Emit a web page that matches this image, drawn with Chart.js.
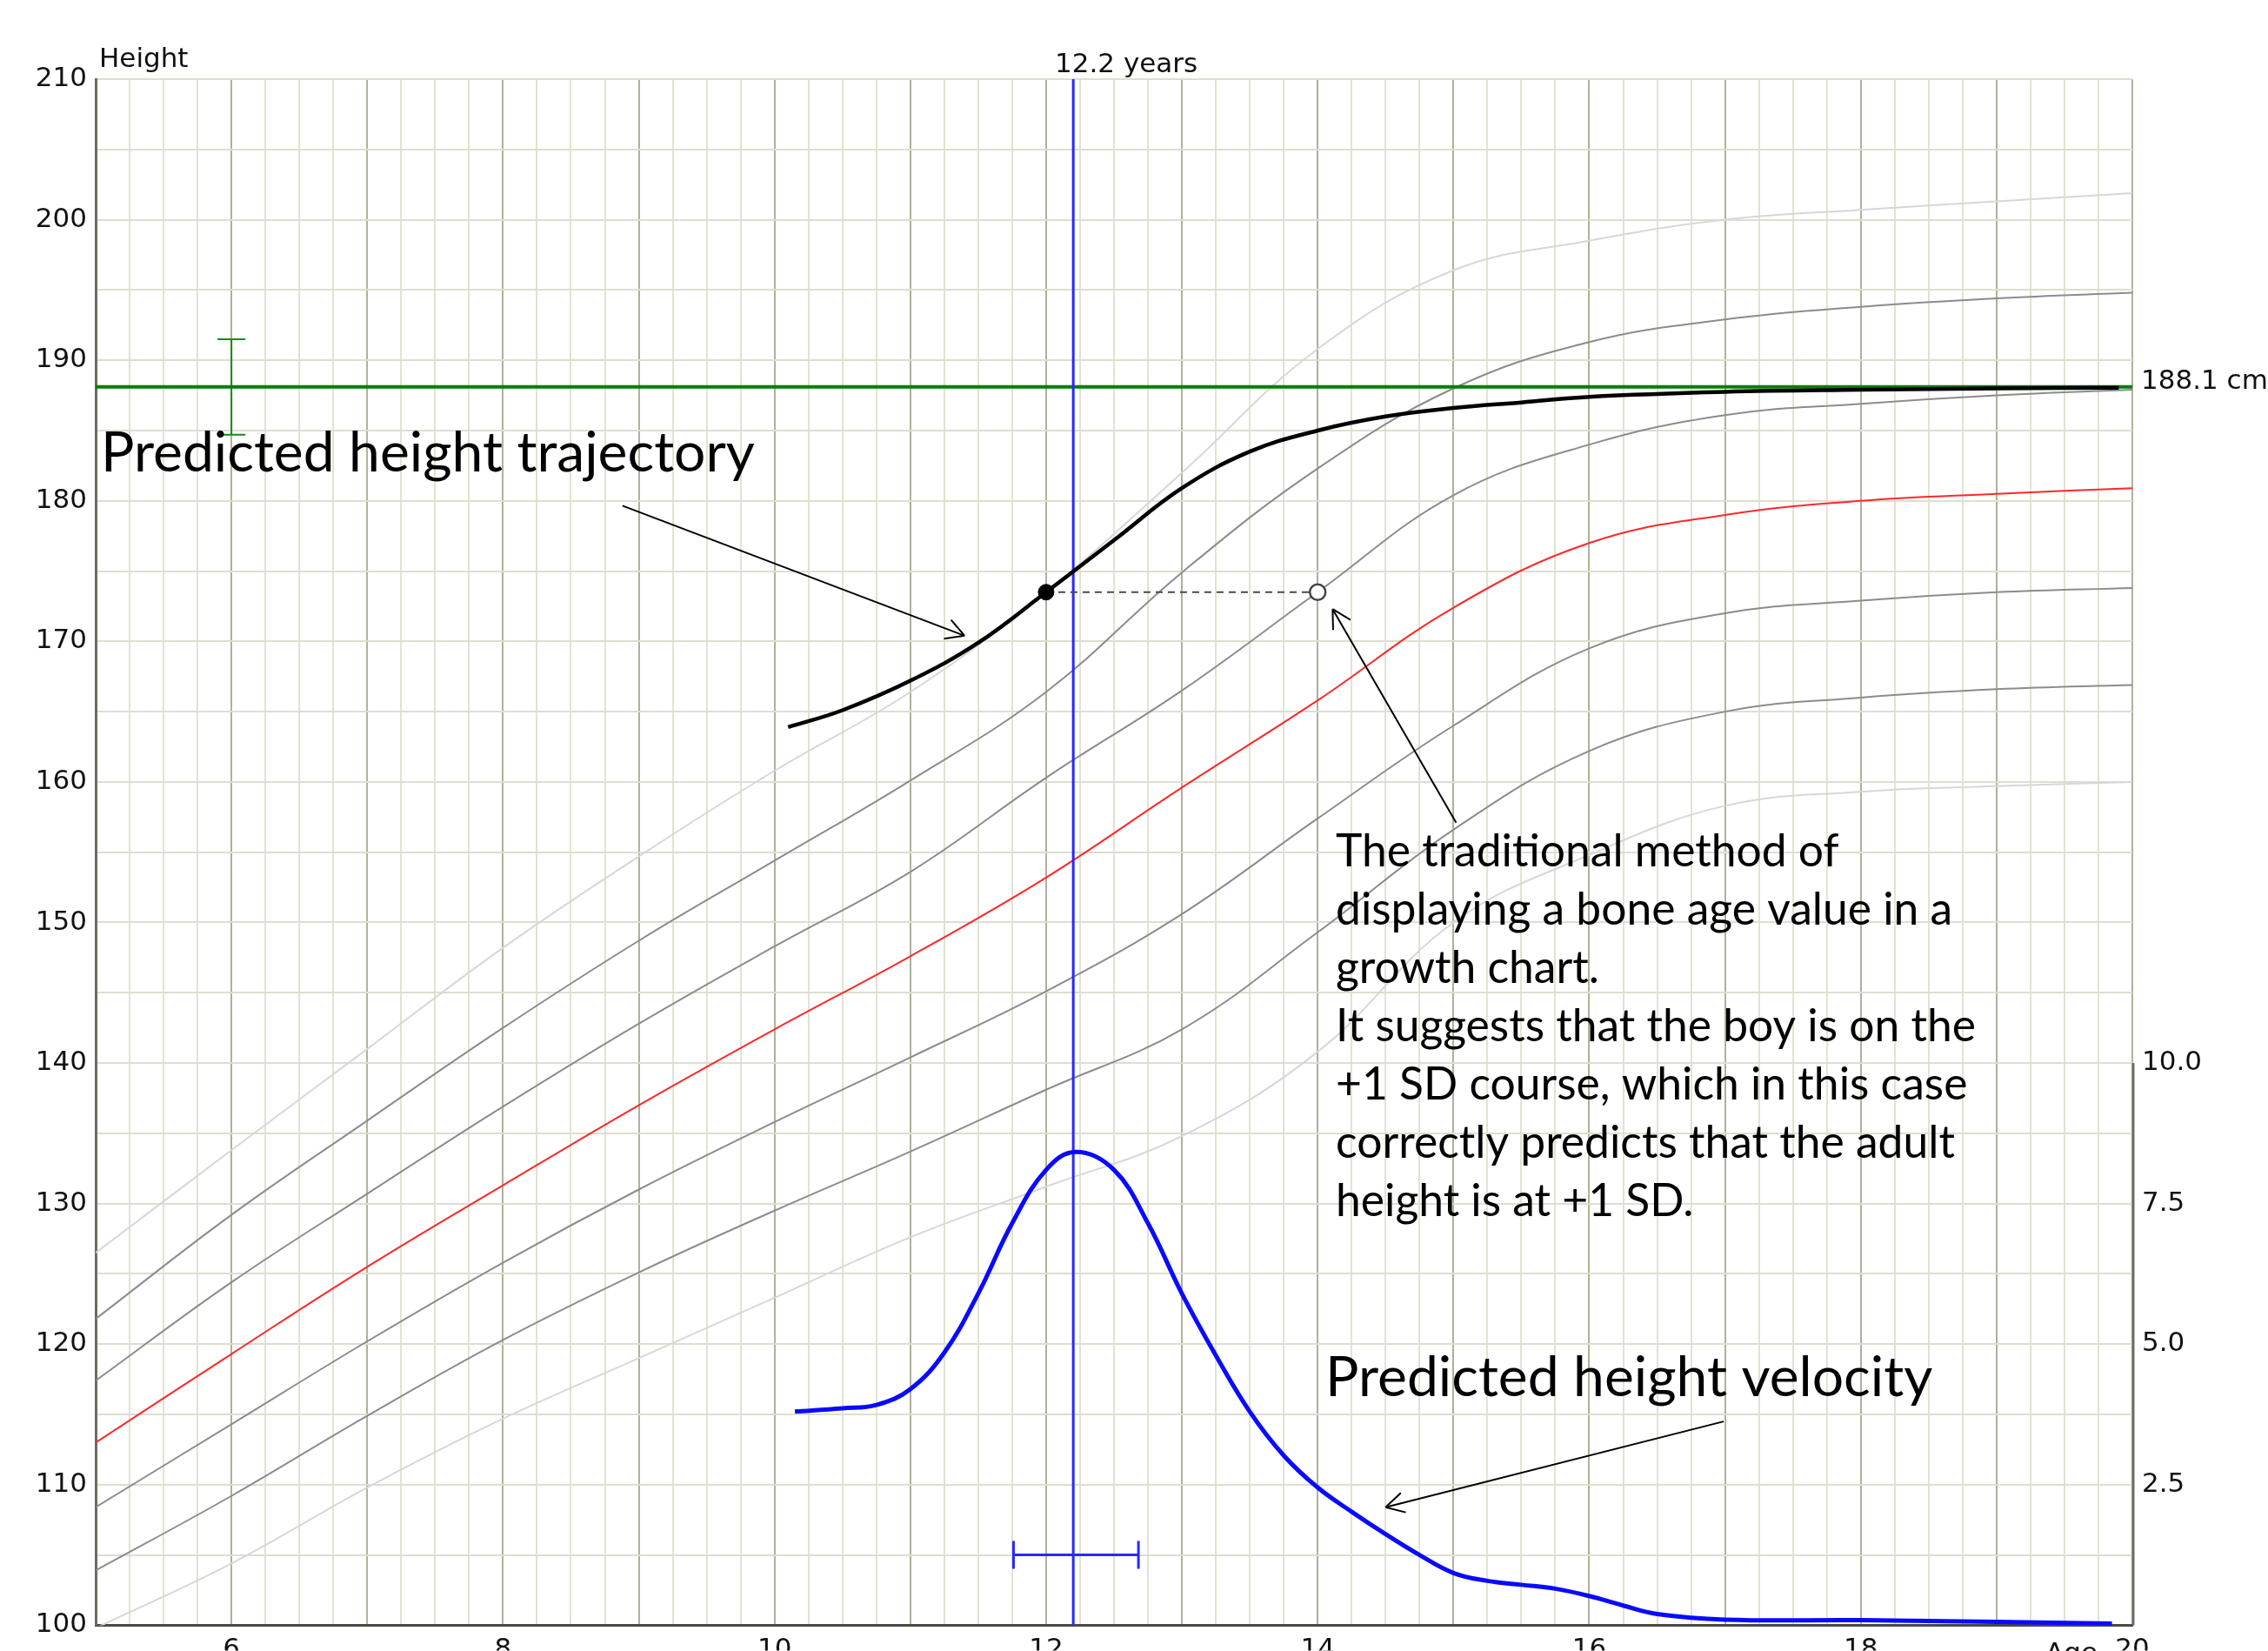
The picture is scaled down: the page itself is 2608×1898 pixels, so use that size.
<!DOCTYPE html>
<html>
<head>
<meta charset="utf-8">
<script src="https://cdn.jsdelivr.net/npm/chart.js@4.4.1/dist/chart.umd.min.js"></script>
<style>
  html, body { margin: 0; padding: 0; background: #fff; overflow: hidden; }
  #wrap { width: 2608px; height: 1898px; }
</style>
</head>
<body>
<div id="wrap"><canvas id="growthChart" width="2608" height="1898"></canvas></div>
<script>
// reference curves (boys), height in cm by age in years
const ages = [5, 6, 7, 8, 9, 10, 11, 12, 13, 14, 15, 16, 17, 18, 19, 20];
const plus3  = [126.5, 133.8, 141.0, 148.2, 154.7, 160.8, 166.4, 173.5, 182.0, 190.8, 196.4, 198.5, 200.0, 200.7, 201.3, 201.9];
const plus2  = [121.8, 129.2, 135.9, 142.5, 148.7, 154.4, 160.1, 166.4, 174.9, 182.3, 188.0, 191.3, 192.9, 193.8, 194.4, 194.8];
const plus1  = [117.4, 124.4, 130.7, 136.9, 142.8, 148.3, 153.6, 160.3, 166.5, 173.5, 180.4, 184.0, 186.1, 186.9, 187.5, 187.9];
const mean   = [113.0, 119.3, 125.5, 131.3, 137.0, 142.4, 147.6, 153.2, 159.6, 165.8, 172.4, 177.0, 179.0, 180.0, 180.5, 180.9];
const minus1 = [108.4, 114.3, 120.2, 125.8, 131.0, 135.8, 140.4, 145.1, 150.6, 157.4, 164.0, 169.5, 172.0, 172.9, 173.5, 173.8];
const minus2 = [103.9, 109.2, 114.9, 120.3, 125.1, 129.5, 133.7, 138.1, 142.4, 149.3, 156.6, 162.2, 165.0, 166.0, 166.6, 166.9];
const minus3 = [99.8, 104.4, 109.8, 114.7, 119.0, 123.3, 127.6, 131.2, 134.8, 140.8, 150.0, 154.8, 158.3, 159.3, 159.7, 160.0];

// predicted height trajectory
const trajAges    = [10.1, 10.5, 11, 11.5, 12, 12.5, 13, 13.5, 14, 14.5, 15, 15.5, 16, 17, 18, 19, 19.9];
const trajHeights = [163.9, 165.1, 167.2, 169.9, 173.5, 177.2, 180.9, 183.5, 185.0, 186.0, 186.6, 187.0, 187.4, 187.75, 187.9, 188.0, 188.05];

// predicted height velocity (cm/year, right axis)
const velAges   = [10.15, 10.5, 10.75, 11, 11.25, 11.5, 11.75, 12, 12.22, 12.5, 12.75, 13, 13.25, 13.5, 13.75, 14, 14.25, 14.5, 14.75, 15, 15.25, 15.5, 15.75, 16, 16.25, 16.5, 17, 18, 19, 19.85];
const velValues = [3.8, 3.86, 3.92, 4.2, 4.85, 5.9, 7.15, 8.1, 8.42, 8.1, 7.15, 5.9, 4.8, 3.8, 3.02, 2.45, 2.02, 1.62, 1.25, 0.93, 0.79, 0.72, 0.65, 0.52, 0.35, 0.2, 0.1, 0.09, 0.06, 0.03];

const currentAge = 12.2;
const ageBar = [11.76, 12.68];
const ageBarHeight = 105;
const targetHeight = 188.1;
const targetBar = [184.7, 191.5];
const targetBarAge = 6;
const measuredAge = 12;
const measuredHeight = 173.5;
const boneAge = 14;

const xTickLabels = [6, 8, 10, 12, 14, 16, 18, 20];
const velTickLabels = [2.5, 5, 7.5, 10];

function pts(xs, ys) { return xs.map((x, i) => ({ x: x, y: ys[i] })); }

function curve(data, color, order) {
    return { data: pts(ages, data), borderColor: color, borderWidth: 2, pointRadius: 0,
             tension: 0.4, order: order };
}

const notes = {
    id: 'notes',
    afterDraw(chart) {
        const { ctx, chartArea: a, scales: { x, y, y2 } } = chart;
        ctx.save();

        // velocity axis only spans 0 - 10
        ctx.strokeStyle = '#6e6e66';
        ctx.lineWidth = 3;
        ctx.beginPath();
        ctx.moveTo(a.right + 1, y2.getPixelForValue(10));
        ctx.lineTo(a.right + 1, y2.getPixelForValue(0));
        ctx.stroke();

        ctx.fillStyle = '#111';
        ctx.font = '31px "DejaVu Sans"';
        ctx.textBaseline = 'alphabetic';
        ctx.textAlign = 'left';
        ctx.fillText('Height', a.left + 4, a.top - 14);
        ctx.textAlign = 'center';
        ctx.fillText(currentAge + ' years', x.getPixelForValue(currentAge) + 61, a.top - 8);
        ctx.textAlign = 'left';
        ctx.fillText(targetHeight + ' cm', a.right + 10, y.getPixelForValue(targetHeight) + 2);
        ctx.textAlign = 'right';
        ctx.textBaseline = 'top';
        ctx.fillText('Age', a.right - 40, a.bottom + 18);

        // annotation texts
        const fam = 'Lato';
        function fit(text, w) {
            ctx.font = '100px ' + fam;
            return 100 * w / ctx.measureText(text).width;
        }
        ctx.fillStyle = '#000';
        ctx.textAlign = 'left';
        ctx.textBaseline = 'alphabetic';
        let s = fit('Predicted height trajectory', 752);
        ctx.font = s + 'px ' + fam;
        ctx.fillText('Predicted height trajectory', 116, 542);
        ctx.fillText('Predicted height velocity', 1524, 1605);

        const lines = ['The traditional method of', 'displaying a bone age value in a', 'growth chart.',
                       'It suggests that the boy is on the', '+1 SD course, which in this case',
                       'correctly predicts that the adult', 'height is at +1 SD.'];
        s = fit(lines[3], 736);
        ctx.font = s + 'px ' + fam;
        lines.forEach((t, i) => ctx.fillText(t, 1536, 996 + i * 67));

        // arrows, given in chart values
        function arrow(x0, y0, x1, y1) {
            const px0 = x.getPixelForValue(x0), py0 = y.getPixelForValue(y0);
            const px1 = x.getPixelForValue(x1), py1 = y.getPixelForValue(y1);
            const ang = Math.atan2(py1 - py0, px1 - px0);
            ctx.strokeStyle = '#000';
            ctx.lineWidth = 2;
            ctx.beginPath();
            ctx.moveTo(px0, py0);
            ctx.lineTo(px1, py1);
            for (const d of [-0.5, 0.5]) {
                ctx.moveTo(px1, py1);
                ctx.lineTo(px1 - 24 * Math.cos(ang + d), py1 - 24 * Math.sin(ang + d));
            }
            ctx.stroke();
        }
        arrow(8.88, 179.65, 11.40, 170.4);
        arrow(15.02, 157.1, 14.11, 172.3);
        arrow(16.99, 114.5, 14.50, 108.4);
        ctx.restore();
    }
};

const ctx = document.getElementById('growthChart').getContext('2d');
new Chart(ctx, {
    type: 'line',
    data: {
        datasets: [
            { data: pts([measuredAge], [measuredHeight]), showLine: false, pointRadius: 9,
              pointBackgroundColor: '#000', pointBorderColor: '#000', order: 0 },
            { data: pts([boneAge], [measuredHeight]), showLine: false, pointRadius: 9, pointBorderWidth: 2.5,
              pointBackgroundColor: '#fff', pointBorderColor: '#444', order: 0 },
            { data: pts([measuredAge, boneAge], [measuredHeight, measuredHeight]), borderColor: '#4a4a4a',
              borderWidth: 2, borderDash: [8, 6], pointRadius: 0, order: 1 },
            { data: pts(trajAges, trajHeights), borderColor: '#000', borderWidth: 4.5, pointRadius: 0,
              tension: 0.4, order: 2 },
            { data: pts(velAges, velValues), yAxisID: 'y2', borderColor: 'rgb(10,10,255)', borderWidth: 5,
              pointRadius: 0, tension: 0.4, order: 3 },
            { data: pts([currentAge, currentAge], [100, 210]), borderColor: 'rgb(40,40,255)', borderWidth: 3,
              pointRadius: 0, order: 4 },
            { data: pts(ageBar, [ageBarHeight, ageBarHeight]), borderColor: 'rgb(40,40,255)', borderWidth: 3,
              pointStyle: 'line', pointRotation: 90, pointRadius: 16, pointBorderWidth: 3,
              pointBorderColor: 'rgb(40,40,255)', order: 4 },
            { data: pts([5, 20], [targetHeight, targetHeight]), borderColor: 'rgb(0,128,0)', borderWidth: 4,
              pointRadius: 0, order: 5 },
            { data: pts([targetBarAge, targetBarAge], targetBar), borderColor: 'rgb(20,140,20)', borderWidth: 2,
              pointStyle: 'line', pointRadius: 16, pointBorderWidth: 2, pointBorderColor: 'rgb(20,140,20)', order: 5 },
            curve(mean, 'rgb(255,40,40)', 6),
            curve(plus1, 'rgb(140,140,140)', 7),
            curve(plus2, 'rgb(140,140,140)', 7),
            curve(minus1, 'rgb(140,140,140)', 7),
            curve(minus2, 'rgb(140,140,140)', 7),
            curve(plus3, 'rgb(215,215,215)', 8),
            curve(minus3, 'rgb(215,215,215)', 8)
        ]
    },
    options: {
        responsive: false,
        animation: false,
        layout: { padding: { top: 91, left: 0, right: 0, bottom: 0 } },
        plugins: { legend: { display: false }, tooltip: { enabled: false } },
        scales: {
            x: {
                type: 'linear', min: 5, max: 20,
                afterFit: s => { s.height = 29; },
                ticks: {
                    stepSize: 0.25, autoSkip: false, maxRotation: 0, padding: 10,
                    color: '#111', font: { family: 'DejaVu Sans', size: 31 },
                    callback: v => xTickLabels.includes(v) ? String(v) : ''
                },
                grid: {
                    drawTicks: false, lineWidth: 2,
                    color: c => (c.tick && Number.isInteger(c.tick.value)) ? 'rgb(176,176,156)' : 'rgb(226,226,212)'
                },
                border: { display: true, color: '#4a4a44', width: 3 }
            },
            y: {
                type: 'linear', min: 100, max: 210, position: 'left',
                afterFit: s => { s.width = 110; },
                ticks: {
                    stepSize: 5, padding: 10, color: '#111', font: { family: 'DejaVu Sans', size: 31 },
                    callback: v => v % 10 === 0 ? String(v) : ''
                },
                grid: { drawTicks: false, lineWidth: 2, color: 'rgb(222,222,208)' },
                border: { display: true, color: '#6b6b63', width: 3 }
            },
            y2: {
                type: 'linear', min: 0, max: 27.5, position: 'right',
                afterFit: s => { s.width = 156; },
                ticks: {
                    stepSize: 2.5, padding: 11, color: '#111', font: { family: 'DejaVu Sans', size: 31 },
                    callback: v => velTickLabels.includes(v) ? v.toFixed(1) : ''
                },
                grid: { display: false, drawTicks: false },
                border: { display: false }
            }
        }
    },
    plugins: [notes]
});
</script>
</body>
</html>
